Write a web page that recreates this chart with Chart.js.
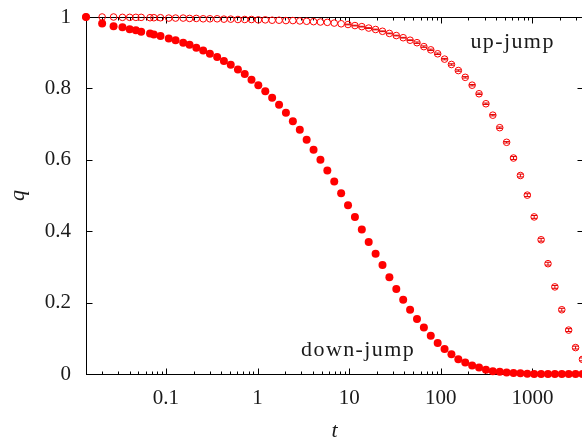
<!DOCTYPE html>
<html>
<head>
<meta charset="utf-8">
<script src="https://cdn.jsdelivr.net/npm/chart.js@4/dist/chart.umd.min.js"></script>
<style>
  html, body { margin: 0; padding: 0; background: #fff; overflow: hidden; width: 582px; height: 443px; }
  canvas { display: block; }
</style>
</head>
<body>
<canvas id="chart_q" width="590" height="443"></canvas>
<script>
(function(){
  'use strict';

  // time points (shared by both curves)
  var times = [0.0134, 0.0201, 0.0268, 0.0335, 0.0402, 0.0469, 0.0536, 0.067, 0.0737, 0.0871,
    0.1072, 0.1273, 0.1541, 0.1809, 0.2144, 0.2546, 0.3015, 0.3618, 0.4288, 0.5092,
    0.6097, 0.7236, 0.8576, 1.018, 1.213, 1.441, 1.715, 2.037, 2.425, 2.888,
    3.430, 4.080, 4.851, 5.769, 6.861, 8.161, 9.702, 11.54, 13.72, 16.31,
    19.40, 23.07, 27.44, 32.64, 38.81, 46.16, 54.89, 65.27, 77.62, 92.31,
    109.8, 130.5, 155.2, 184.6, 219.5, 261.1, 310.5, 369.2, 439.1, 522.2,
    621.0, 738.5, 878.2, 1044, 1242, 1477, 1756, 2089, 2484, 2954, 3513];

  var downJump = [1.000, 0.982, 0.974, 0.971, 0.966, 0.963, 0.959, 0.954, 0.951, 0.947,
    0.940, 0.935, 0.928, 0.922, 0.914, 0.906, 0.897, 0.888, 0.877, 0.866,
    0.853, 0.840, 0.824, 0.809, 0.792, 0.774, 0.754, 0.732, 0.708, 0.684,
    0.656, 0.628, 0.600, 0.570, 0.539, 0.506, 0.473, 0.440, 0.405, 0.370,
    0.337, 0.305, 0.271, 0.238, 0.208, 0.180, 0.154, 0.130, 0.107, 0.087,
    0.070, 0.055, 0.041, 0.032, 0.024, 0.018, 0.012, 0.008, 0.006, 0.004,
    0.003, 0.002, 0.001, 0, 0, 0, 0, 0, 0, 0, 0];

  var upJump = [1.000, 1.000, 1.000, 0.999, 0.999, 0.999, 0.999, 0.998, 0.998, 0.998,
    0.997, 0.997, 0.997, 0.996, 0.996, 0.995, 0.995, 0.995, 0.994, 0.994,
    0.993, 0.993, 0.993, 0.992, 0.992, 0.991, 0.991, 0.990, 0.990, 0.989,
    0.988, 0.987, 0.986, 0.985, 0.983, 0.981, 0.979, 0.976, 0.973, 0.969,
    0.965, 0.960, 0.954, 0.948, 0.942, 0.935, 0.928, 0.917, 0.908, 0.897,
    0.882, 0.867, 0.850, 0.831, 0.809, 0.785, 0.757, 0.725, 0.690, 0.649,
    0.605, 0.556, 0.501, 0.440, 0.376, 0.309, 0.244, 0.180, 0.123, 0.074, 0.041];

  // error bars of the up-jump curve
  var upErr = [0, 0, 0, 0, 0, 0, 0, 0, 0, 0,
    0, 0, 0, 0, 0, 0, 0, 0, 0, 0,
    0, 0, 0, 0, 0, 0, 0, 0, 0, 0,
    0, 0, 0, 0, 0, 0, 0.001, 0.001, 0.001, 0.001,
    0.001, 0.001, 0.001, 0.001, 0.001, 0.001, 0.002, 0.002, 0.002, 0.002,
    0.002, 0.002, 0.002, 0.002, 0.002, 0.002, 0.002, 0.002, 0.002, 0.002,
    0.004, 0.004, 0.004, 0.004, 0.004, 0.004, 0.004, 0.004, 0.004, 0.004, 0.004];

  var xMajorTicks = [0.1, 1, 10, 100, 1000];
  var labels = [
    {text: 'up-jump', t: 607, q: 0.912},
    {text: 'down-jump', t: 12.5, q: 0.05}
  ];

  var serif = "'Liberation Serif', serif";
  var textColor = '#1a1a1a';

  function points(ys){
    return times.map(function(t, i){ return {x: t, y: ys[i]}; });
  }

  function isMajor(v){
    return xMajorTicks.some(function(m){ return Math.abs(Math.log10(v) - Math.log10(m)) < 1e-6; });
  }

  // frame with inward ticks on all four sides, like gnuplot
  var framePlugin = {
    id: 'frame',
    beforeDatasetsDraw: function(chart){
      var ctx = chart.ctx, a = chart.chartArea;
      var xs = chart.scales.x, ys = chart.scales.y;
      var L = Math.round(a.left) + 0.5, R = Math.round(a.right) + 0.5;
      var T = Math.round(a.top) + 0.5, B = Math.round(a.bottom) + 0.5;
      ctx.save();
      ctx.strokeStyle = '#000';
      ctx.lineWidth = 1;
      ctx.strokeRect(L, T, R - L, B - T);
      ctx.beginPath();
      for (var d = 0.01; d < 1e4; d *= 10) {
        for (var m = 1; m <= 9; m++) {
          var v = m * d;
          if (v < xs.min || v > xs.max) continue;
          var px = Math.round(xs.getPixelForValue(v)) + 0.5;
          var len = isMajor(v) ? 6 : 3;
          ctx.moveTo(px, B); ctx.lineTo(px, B - len);
          ctx.moveTo(px, T); ctx.lineTo(px, T + len);
        }
      }
      ys.ticks.forEach(function(tk){
        var py = Math.round(ys.getPixelForValue(tk.value)) + 0.5;
        ctx.moveTo(L, py); ctx.lineTo(L + 6, py);
        ctx.moveTo(R, py); ctx.lineTo(R - 6, py);
      });
      ctx.stroke();
      ctx.restore();
    },
    afterDatasetsDraw: function(chart){
      var ctx = chart.ctx, ys = chart.scales.y, xs = chart.scales.x;
      // error bars for up-jump
      ctx.save();
      ctx.strokeStyle = '#e00000';
      ctx.lineWidth = 1;
      ctx.beginPath();
      times.forEach(function(t, i){
        if (!upErr[i]) return;
        var px = xs.getPixelForValue(t);
        var y1 = ys.getPixelForValue(upJump[i] - upErr[i]);
        var y2 = ys.getPixelForValue(upJump[i] + upErr[i]);
        ctx.moveTo(px, y1); ctx.lineTo(px, y2);
        ctx.moveTo(px - 3, y1); ctx.lineTo(px + 3, y1);
        ctx.moveTo(px - 3, y2); ctx.lineTo(px + 3, y2);
      });
      ctx.stroke();
      // curve labels
      ctx.fillStyle = textColor;
      ctx.font = '22px ' + serif;
      ctx.textAlign = 'center';
      ctx.textBaseline = 'alphabetic';
      ctx.letterSpacing = '1.4px';
      labels.forEach(function(l){
        ctx.fillText(l.text, xs.getPixelForValue(l.t), ys.getPixelForValue(l.q));
      });
      ctx.restore();
    }
  };

  var data = {
    datasets: [{
      label: 'down-jump',
      data: points(downJump),
      showLine: false,
      pointRadius: 4,
      pointBorderWidth: 0,
      pointBackgroundColor: '#ff0000',
      pointBorderColor: '#ff0000',
      clip: false
    }, {
      label: 'up-jump',
      data: points(upJump),
      showLine: false,
      pointRadius: 3.3,
      pointBorderWidth: 1,
      pointBackgroundColor: 'rgba(0,0,0,0)',
      pointBorderColor: '#ff0000',
      clip: false
    }]
  };

  var options = {
    responsive: false,
    devicePixelRatio: 1,
    animation: false,
    layout: { padding: { top: 17, right: 7, left: 0, bottom: 0 } },
    plugins: { legend: { display: false }, tooltip: { enabled: false } },
    scales: {
      x: {
        type: 'logarithmic',
        min: 0.0134,
        max: 3560,
        border: { display: false },
        grid: { display: false, drawTicks: false, tickLength: 0 },
        ticks: {
          autoSkip: false,
          maxRotation: 0,
          minRotation: 0,
          padding: 12,
          color: textColor,
          font: { family: serif, size: 21 },
          callback: function(v){ return isMajor(v) ? String(+v.toPrecision(6)) : ''; }
        },
        title: {
          display: true,
          text: 't',
          color: textColor,
          font: { family: serif, size: 22, style: 'italic' },
          padding: { top: 0, bottom: -1 }
        },
        afterFit: function(s){ s.height = 69; s.paddingLeft = 0; s.paddingRight = 0; }
      },
      y: {
        min: 0,
        max: 1,
        border: { display: false },
        grid: { display: false, drawTicks: false, tickLength: 0 },
        ticks: {
          stepSize: 0.2,
          padding: 15,
          color: textColor,
          font: { family: serif, size: 21 },
          callback: function(v){ return String(+v.toFixed(1)); }
        },
        title: {
          display: true,
          text: 'q',
          color: textColor,
          font: { family: serif, size: 22, style: 'italic' },
          padding: { top: 5, bottom: 0 }
        },
        afterFit: function(s){ s.width = 86; s.paddingTop = 0; s.paddingBottom = 0; }
      }
    }
  };

  var ctx = document.getElementById('chart_q').getContext('2d');
  var myChart = new Chart(ctx, {
    type: 'scatter',
    data: data,
    options: options,
    plugins: [framePlugin]
  });
})();
</script>
</body>
</html>
